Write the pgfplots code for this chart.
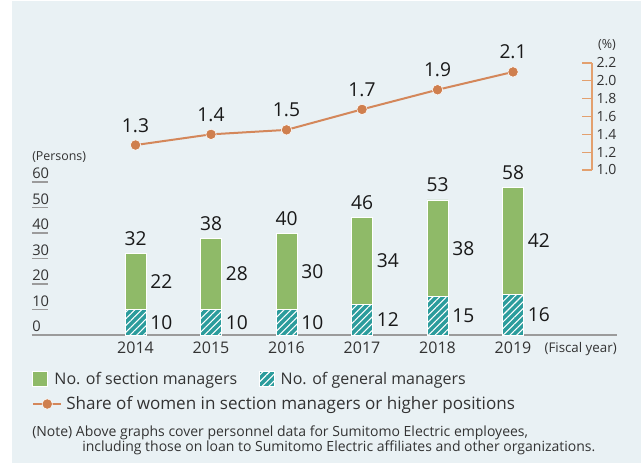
\documentclass[border=0pt]{standalone}
\usepackage{fontspec}
\setmainfont{Open Sans}
\usepackage{pgfplots}
\pgfplotsset{compat=1.18}
\usetikzlibrary{patterns.meta}
\definecolor{bgcol}{RGB}{233,241,244}
\definecolor{secgreen}{RGB}{143,186,104}
\definecolor{genteal}{RGB}{43,156,156}
\definecolor{shareline}{RGB}{212,135,90}
\definecolor{sharemark}{RGB}{207,127,78}
\definecolor{basegray}{RGB}{155,155,155}
\definecolor{rightax}{RGB}{227,160,110}
\definecolor{labtext}{RGB}{51,51,51}
\def\u{0.75pt}
\begin{document}
\begin{tikzpicture}
\useasboundingbox (0,0) rectangle ({641*\u},{-465*\u});
\fill[bgcol] ({12*\u},{-1*\u}) rectangle ({641*\u},{-463*\u});

% stacked bars
\begin{axis}[
  at={({32*\u},{-335*\u})}, anchor=south west,
  scale only axis, width={585*\u}, height={153*\u},
  xmin=-1.371, xmax=6.377, ymin=0, ymax=60,
  ybar stacked, bar width={21*\u},
  axis lines*=left,
  x axis line style={draw=basegray, line width={1.5*\u}, -},
  y axis line style={draw=none},
  xtick={0,...,5}, xticklabels={2014,2015,2016,2017,2018,2019},
  x tick style={draw=none},
  xticklabel style={font=\fontsize{12}{14}\selectfont, text=labtext, yshift=-2pt},
  ytick={0,10,...,60},
  tick align=inside, major tick length={16*\u},
  y tick style={draw=basegray, line width={1.5*\u}},
  yticklabel style={anchor=south west, inner sep=0pt, yshift=2pt, font=\fontsize{11}{13}\selectfont, text=labtext},
  /pgf/number format/assume math mode=true,
  clip=false,
  legend columns=2, reverse legend,
  legend style={at={(0,-0.2876)}, anchor=west, draw=none, fill=none, inner sep=0pt,
    font=\fontsize{12}{14}\selectfont, text=labtext,
    nodes={inner sep=0pt},
    /tikz/every odd column/.append style={column sep=5pt},
    /tikz/every even column/.append style={column sep=16pt}},
  legend image code/.code={\draw[#1] (0pt,-5.6pt) rectangle (11.25pt,5.6pt);},
]
\addplot[fill=genteal, draw=white, line width=0.4pt,
  postaction={pattern={Lines[angle=45,distance=3.6pt,line width=0.8pt]}, pattern color=white}]
  coordinates {(0,10) (1,10) (2,10) (3,12) (4,15) (5,16)};
\addlegendentry{No. of general managers}
\addplot[fill=secgreen, draw=white, line width=0.4pt]
  coordinates {(0,22) (1,28) (2,30) (3,34) (4,38) (5,42)};
\addlegendentry{No. of section managers}
\end{axis}

% value labels of the bars
\begin{axis}[
  at={({32*\u},{-335*\u})}, anchor=south west,
  scale only axis, width={585*\u}, height={153*\u},
  xmin=-1.371, xmax=6.377, ymin=0, ymax=60,
  hide axis, clip=false,
  nodes near coords, point meta=explicit symbolic,
  every node near coord/.append style={font=\fontsize{14.4}{16}\selectfont, text=black!90, inner sep=0pt},
]
\addplot[draw=none, mark=none, nodes near coords style={anchor=south, yshift={7.5*\u}}]
  coordinates {(0,32)[32] (1,38)[38] (2,40)[40] (3,46)[46] (4,53)[53] (5,58)[58]};
\addplot[draw=none, mark=none, nodes near coords style={anchor=west, xshift={14.5*\u}}]
  coordinates {(0,21)[22] (1,24)[28] (2,25)[30] (3,29)[34] (4,34)[38] (5,37)[42]};
\addplot[draw=none, mark=none, nodes near coords style={anchor=west, xshift={14.5*\u}}]
  coordinates {(0,5)[10] (1,5)[10] (2,5)[10] (3,6)[12] (4,7.5)[15] (5,8)[16]};
\end{axis}

% share line
\begin{axis}[
  at={({32*\u},{-170*\u})}, anchor=south west,
  scale only axis, width={560*\u}, height={107*\u},
  xmin=-1.371, xmax=6.046, ymin=1, ymax=2.2,
  axis x line=none, axis y line*=right,
  y axis line style={draw=rightax, line width=0.9pt, -},
  ytick={1.0,1.2,1.4,1.6,1.8,2.0,2.2},
  yticklabel style={/pgf/number format/.cd, fixed, fixed zerofill, precision=1, /tikz/.cd,
    font=\fontsize{10.5}{12}\selectfont, text=labtext},
  tick align=inside, major tick length={10*\u},
  y tick style={draw=rightax, line width=0.9pt},
  /pgf/number format/assume math mode=true,
  clip=false,
  legend style={at={(0,-2.187)}, anchor=west, draw=none, fill=none, inner sep=0pt,
    font=\fontsize{12.8}{14}\selectfont, text=labtext,
    nodes={inner sep=0pt},
    /tikz/every odd column/.append style={column sep=3pt}},
  legend image code/.code={\draw[#1, mark repeat=2, mark phase=2] plot coordinates {(0pt,0pt) (10.5pt,0pt) (21pt,0pt)};},
]
\addplot[shareline, line width=1.5pt, mark=*, mark size=3.9pt,
  mark options={fill=sharemark, draw=white, line width=0.4pt},
  nodes near coords, point meta=explicit symbolic,
  nodes near coords style={anchor=south, inner sep=0pt, yshift={12.5*\u},
    font=\fontsize{14.4}{16}\selectfont, text=black!90}]
  coordinates {(0,1.28)[1.3] (1,1.40)[1.4] (2,1.45)[1.5] (3,1.68)[1.7] (4,1.90)[1.9] (5,2.10)[2.1]};
\addlegendentry{Share of women in section managers or higher positions}
\end{axis}

\node[anchor=center, inner sep=0pt, font=\fontsize{9.4}{11}\selectfont, text=labtext] at ({607*\u},{-45*\u}) {(\%)};
\node[anchor=west, inner sep=0pt, font=\fontsize{9.3}{11}\selectfont, text=labtext] at ({32*\u},{-157*\u}) {(Persons)};
\node[anchor=east, inner sep=0pt, font=\fontsize{10}{12}\selectfont, text=labtext] at ({617*\u},{-349*\u}) {(Fiscal year)};
\node[anchor=west, inner sep=0pt, font=\fontsize{10.5}{12}\selectfont, text=labtext] at ({32*\u},{-433*\u}) {(Note) Above graphs cover personnel data for Sumitomo Electric employees,};
\node[anchor=west, inner sep=0pt, font=\fontsize{10.5}{12}\selectfont, text=labtext] at ({82*\u},{-448*\u}) {including those on loan to Sumitomo Electric affiliates and other organizations.};
\end{tikzpicture}
\end{document}
